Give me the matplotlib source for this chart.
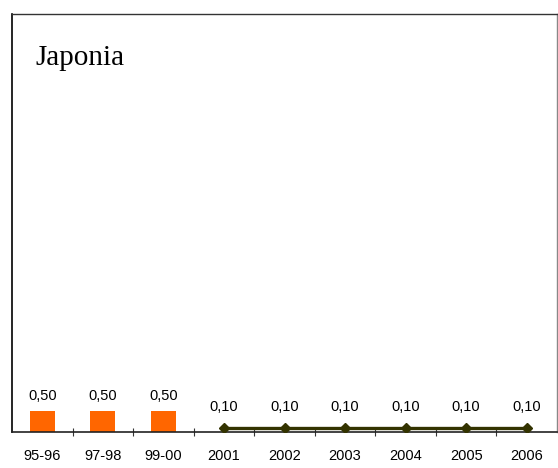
import matplotlib
matplotlib.use("Agg")
import matplotlib.pyplot as plt
import numpy as np

categories = ["95-96", "97-98", "99-00", "2001", "2002", "2003", "2004", "2005", "2006"]
bar_values = [0.50, 0.50, 0.50]
line_values = [0.10, 0.10, 0.10, 0.10, 0.10, 0.10]
title = "Japonia"

W, H = 558, 468
fig = plt.figure(figsize=(W / 100, H / 100), dpi=100)
left, right, top, bottom = 12, 557, 14, 432
ax = fig.add_axes([left / W, (H - bottom) / H, (right - left) / W, (bottom - top) / H])

x = np.arange(len(categories))
xb = x[:len(bar_values)]
xl = x[len(bar_values):]

ax.bar(xb, bar_values, width=0.41, color="#FF6600", zorder=2)
ax.plot(xl, line_values, color="#333300", lw=2.4, marker="D", markersize=5.5, zorder=3)

fs = 10.5
for xi, v in zip(xb, bar_values):
    ax.annotate(f"{v:.2f}".replace(".", ","), (xi, v), xytext=(0, 6), textcoords="offset points",
                ha="center", va="bottom", fontsize=fs, family="Liberation Sans")
for xi, v in zip(xl, line_values):
    ax.annotate(f"{v:.2f}".replace(".", ","), (xi, v), xytext=(0, 10), textcoords="offset points",
                ha="center", va="bottom", fontsize=fs, family="Liberation Sans")

ax.set_xlim(-0.5, len(categories) - 0.5)
ax.set_ylim(0, 9.95)
ax.set_xticks(x)
ax.set_xticklabels(categories, fontsize=fs, family="Liberation Sans")
ax.set_xticks(x[:-1] + 0.5, minor=True)
ax.tick_params(axis="x", which="major", length=0, pad=12)
ax.tick_params(axis="x", which="minor", length=6, direction="inout", width=0.8, color="#333333")
ax.set_yticks([])

ax.spines["left"].set_color("#000000")
ax.spines["left"].set_linewidth(1.2)
ax.spines["bottom"].set_color("#222222")
ax.spines["bottom"].set_linewidth(1.2)
ax.spines["top"].set_color("#333333")
ax.spines["top"].set_linewidth(1.0)
ax.spines["right"].set_color("#888888")
ax.spines["right"].set_linewidth(1.0)

ax.text(23 / (right - left), 1 - 51 / (bottom - top), title, transform=ax.transAxes,
        fontsize=21, family="Liberation Serif", ha="left", va="baseline")

fig.savefig("out.png", dpi=100)
